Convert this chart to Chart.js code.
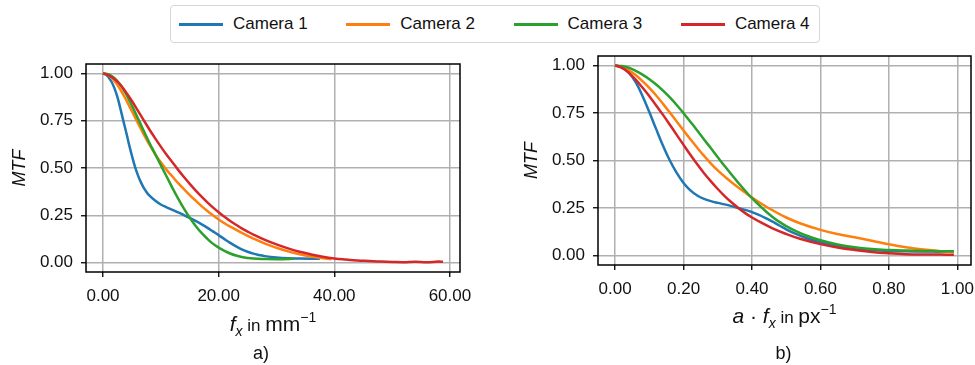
<!DOCTYPE html>
<html>
<head>
<meta charset="utf-8">
<script src="https://cdn.jsdelivr.net/npm/chart.js@4/dist/chart.umd.min.js"></script>
<style>
  html, body { margin: 0; padding: 0; background: #fff; }
  body { position: relative; width: 975px; height: 365px; overflow: hidden; font-family: "Liberation Sans", Arial, sans-serif; }
  #legend { position: absolute; left: 170px; top: 5px; width: 650px; height: 38px; box-sizing: border-box;
            border: 1px solid #d6d6d6; border-radius: 4px; background: #fff; }
  .swatch { position: absolute; top: 17px; width: 44px; height: 3px; }
  .label { position: absolute; top: 8px; font-size: 17px; line-height: 20px; color: #111; white-space: nowrap; }
  canvas { position: absolute; }
  #chartA { left: 0; top: 50px; }
  #chartB { left: 490px; top: 40px; }
</style>
</head>
<body>
<div id="legend"></div>
<canvas id="chartA" width="480" height="315"></canvas>
<canvas id="chartB" width="485" height="325"></canvas>
<script>
// ---- series names and colours ----
const cameraNames = ['Camera 1', 'Camera 2', 'Camera 3', 'Camera 4'];
const cameraColors = ['#1f77b4', '#ff7f0e', '#2ca02c', '#d62728'];

// ---- a) MTF over spatial frequency f_x (mm^-1) ----
const cam1Fx  = [0, 0.5, 1, 1.5, 2, 2.5, 3, 3.5, 4, 4.5, 5, 5.5, 6, 6.5, 7, 7.5, 8, 9, 10, 11, 12, 13, 14, 15, 16, 17, 18, 19, 20, 21, 22, 23, 24, 25, 26, 27, 28, 30, 32, 34, 36, 37.5];
const cam1MtfA = [1, 0.995, 0.978, 0.955, 0.92, 0.875, 0.815, 0.752, 0.69, 0.625, 0.565, 0.51, 0.465, 0.428, 0.398, 0.374, 0.355, 0.328, 0.307, 0.292, 0.278, 0.265, 0.251, 0.236, 0.22, 0.203, 0.185, 0.165, 0.145, 0.124, 0.104, 0.086, 0.07, 0.057, 0.047, 0.04, 0.034, 0.027, 0.023, 0.021, 0.02, 0.02];

const cam2Fx  = [0, 1, 2, 3, 4, 5, 6, 7, 8, 9, 10, 11, 12, 13, 14, 15, 16, 17, 18, 19, 20, 21, 22, 24, 26, 28, 30, 32, 34, 36, 38, 39.5];
const cam2MtfA = [1, 0.99, 0.96, 0.915, 0.86, 0.8, 0.74, 0.68, 0.625, 0.575, 0.53, 0.49, 0.455, 0.42, 0.388, 0.357, 0.328, 0.3, 0.274, 0.25, 0.228, 0.208, 0.19, 0.157, 0.127, 0.1, 0.078, 0.059, 0.044, 0.032, 0.023, 0.018];

const cam3Fx  = [0, 1, 2, 3, 4, 5, 6, 7, 8, 9, 10, 11, 12, 13, 14, 15, 16, 17, 18, 19, 20, 21, 22, 23, 24, 25, 26, 28, 30, 32, 33];
const cam3MtfA = [1, 0.995, 0.975, 0.94, 0.89, 0.83, 0.765, 0.7, 0.635, 0.575, 0.515, 0.455, 0.395, 0.338, 0.285, 0.237, 0.195, 0.158, 0.127, 0.1, 0.079, 0.062, 0.048, 0.037, 0.029, 0.024, 0.021, 0.019, 0.018, 0.019, 0.021];

const cam4Fx  = [0, 1, 2, 3, 4, 5, 6, 7, 8, 9, 10, 11, 12, 13, 14, 15, 16, 17, 18, 19, 20, 21, 22, 23, 24, 25, 26, 28, 30, 32, 34, 36, 38, 40, 42, 44, 46, 48, 50, 52, 54, 56, 58, 58.8];
const cam4MtfA = [1, 0.99, 0.97, 0.94, 0.9, 0.855, 0.805, 0.755, 0.705, 0.658, 0.613, 0.57, 0.53, 0.49, 0.452, 0.416, 0.382, 0.35, 0.32, 0.292, 0.266, 0.242, 0.22, 0.2, 0.181, 0.164, 0.148, 0.12, 0.096, 0.075, 0.057, 0.043, 0.031, 0.022, 0.016, 0.011, 0.008, 0.005, 0.003, 0.002, 0.004, 0.002, 0.005, 0.004];

// ---- b) MTF over normalised frequency a*f_x (px^-1) ----
const cam1Afx = [0, 0.02, 0.04, 0.06, 0.08, 0.1, 0.12, 0.14, 0.16, 0.18, 0.2, 0.22, 0.24, 0.26, 0.28, 0.3, 0.32, 0.34, 0.36, 0.38, 0.4, 0.42, 0.44, 0.46, 0.48, 0.5, 0.53, 0.56, 0.6, 0.65, 0.7, 0.75, 0.8, 0.85, 0.9, 0.95, 0.99];
const cam1MtfB = [1, 0.99, 0.962, 0.912, 0.84, 0.755, 0.665, 0.578, 0.5, 0.435, 0.382, 0.343, 0.316, 0.298, 0.286, 0.277, 0.269, 0.26, 0.25, 0.24, 0.228, 0.214, 0.197, 0.178, 0.158, 0.138, 0.112, 0.091, 0.07, 0.051, 0.037, 0.029, 0.024, 0.022, 0.021, 0.02, 0.02];

const cam2Afx = [0, 0.02, 0.04, 0.06, 0.08, 0.1, 0.12, 0.14, 0.16, 0.18, 0.2, 0.22, 0.24, 0.26, 0.28, 0.3, 0.32, 0.34, 0.36, 0.38, 0.4, 0.43, 0.46, 0.5, 0.54, 0.6, 0.65, 0.7, 0.75, 0.8, 0.85, 0.9, 0.95, 0.99];
const cam2MtfB = [1, 0.993, 0.975, 0.95, 0.918, 0.882, 0.842, 0.798, 0.752, 0.705, 0.658, 0.612, 0.567, 0.524, 0.484, 0.448, 0.416, 0.386, 0.358, 0.331, 0.305, 0.27, 0.238, 0.2, 0.17, 0.135, 0.113, 0.096, 0.078, 0.059, 0.043, 0.031, 0.023, 0.018];

const cam3Afx = [0, 0.02, 0.04, 0.06, 0.08, 0.1, 0.12, 0.14, 0.16, 0.18, 0.2, 0.22, 0.24, 0.26, 0.28, 0.3, 0.32, 0.34, 0.36, 0.38, 0.4, 0.42, 0.44, 0.46, 0.48, 0.5, 0.53, 0.56, 0.6, 0.65, 0.7, 0.75, 0.8, 0.85, 0.9, 0.95, 0.99];
const cam3MtfB = [1, 0.997, 0.988, 0.972, 0.952, 0.928, 0.9, 0.868, 0.832, 0.792, 0.749, 0.704, 0.658, 0.611, 0.564, 0.517, 0.471, 0.426, 0.383, 0.341, 0.302, 0.266, 0.233, 0.203, 0.177, 0.155, 0.127, 0.104, 0.08, 0.058, 0.043, 0.034, 0.029, 0.026, 0.024, 0.023, 0.022];

const cam4Afx = [0, 0.02, 0.04, 0.06, 0.08, 0.1, 0.12, 0.14, 0.16, 0.18, 0.2, 0.22, 0.24, 0.26, 0.28, 0.3, 0.32, 0.34, 0.36, 0.38, 0.4, 0.43, 0.46, 0.5, 0.54, 0.6, 0.65, 0.7, 0.75, 0.8, 0.85, 0.9, 0.95, 0.99];
const cam4MtfB = [1, 0.988, 0.962, 0.926, 0.884, 0.838, 0.79, 0.74, 0.688, 0.635, 0.582, 0.53, 0.48, 0.433, 0.39, 0.35, 0.313, 0.28, 0.25, 0.223, 0.2, 0.17, 0.143, 0.113, 0.088, 0.06, 0.042, 0.029, 0.019, 0.012, 0.007, 0.005, 0.005, 0.004];

// ---- tick values ----
const ticksFx  = [0, 20, 40, 60];
const ticksAfx = [0, 0.2, 0.4, 0.6, 0.8, 1.0];
const ticksMtf = [0, 0.25, 0.5, 0.75, 1.0];

// ---- legend (HTML, shared by both panels) ----
const legendEl = document.getElementById('legend');
cameraNames.forEach((name, i) => {
  const x0 = 8 + i * 167.3;
  const sw = document.createElement('div');
  sw.className = 'swatch';
  sw.style.left = x0 + 'px';
  sw.style.background = cameraColors[i];
  legendEl.appendChild(sw);
  const lb = document.createElement('div');
  lb.className = 'label';
  lb.style.left = (x0 + 54) + 'px';
  lb.textContent = name;
  legendEl.appendChild(lb);
});

function toPoints(xs, ys) { return xs.map((x, i) => ({ x: x, y: ys[i] })); }

function makeDatasets(pairs) {
  return pairs.map(([xs, ys], i) => ({
    label: cameraNames[i],
    data: toPoints(xs, ys),
    borderColor: cameraColors[i],
    backgroundColor: cameraColors[i],
    borderWidth: 2.5,
    pointRadius: 0,
    tension: 0.4,
    fill: false,
    order: 4 - i            // later cameras are painted on top
  }));
}

const FONT = "'Liberation Sans', Arial, sans-serif";
const TEXT = '#111';

// frame around the plotting area + mixed-style x label and panel caption
const decorPlugin = {
  id: 'decor',
  afterDraw(chart, args, opts) {
    const { ctx, chartArea: a } = chart;
    ctx.save();
    ctx.strokeStyle = '#000';
    ctx.lineWidth = 1.5;
    ctx.strokeRect(a.left, a.top, a.right - a.left, a.bottom - a.top);

    // rich x-axis title
    ctx.fillStyle = TEXT;
    ctx.textBaseline = 'alphabetic';
    let total = 0;
    opts.runs.forEach(r => { ctx.font = r.font; r.w = ctx.measureText(r.t).width; total += r.w; });
    let x = (a.left + a.right) / 2 - total / 2;
    opts.runs.forEach(r => {
      ctx.font = r.font;
      ctx.textAlign = 'left';
      ctx.fillText(r.t, x, opts.titleY + (r.dy || 0));
      x += r.w;
    });

    // caption
    ctx.font = '18px ' + FONT;
    ctx.textAlign = 'center';
    ctx.fillText(opts.caption, opts.captionX, opts.captionY);
    ctx.restore();
  }
};

function makeOptions(cfg) {
  return {
    responsive: false,
    animation: false,
    devicePixelRatio: 1,
    layout: { padding: cfg.padding },
    plugins: {
      legend: { display: false },
      tooltip: { enabled: false },
      decor: cfg.decor
    },
    scales: {
      x: {
        type: 'linear',
        min: cfg.xMin, max: cfg.xMax,
        afterBuildTicks: s => { s.ticks = cfg.xTicks.map(v => ({ value: v })); },
        afterFit: s => { s.height = cfg.xHeight; s.paddingLeft = 0; s.paddingRight = 0; },
        ticks: { font: { size: 17, family: FONT }, color: TEXT, padding: 9, maxRotation: 0,
                 callback: v => Number(v).toFixed(2) },
        grid: { color: '#b0b0b0', lineWidth: 1.5, tickColor: '#000', tickLength: 5, tickWidth: 1.3 },
        border: { display: false }
      },
      y: {
        type: 'linear',
        min: -0.05, max: 1.05,
        afterBuildTicks: s => { s.ticks = ticksMtf.map(v => ({ value: v })); },
        afterFit: s => { s.width = cfg.yWidth; s.paddingTop = 0; s.paddingBottom = 0; },
        ticks: { font: { size: 17, family: FONT }, color: TEXT, padding: 8,
                 callback: v => Number(v).toFixed(2) },
        grid: { color: '#b0b0b0', lineWidth: 1.5, tickColor: '#000', tickLength: 5, tickWidth: 1.3 },
        border: { display: false },
        title: { display: true, text: 'MTF', color: TEXT,
                 font: { size: 18, family: FONT, style: 'italic' },
                 padding: { top: cfg.yTitlePad, bottom: 0 } }
      }
    }
  };
}

new Chart(document.getElementById('chartA'), {
  type: 'line',
  data: { datasets: makeDatasets([[cam1Fx, cam1MtfA], [cam2Fx, cam2MtfA], [cam3Fx, cam3MtfA], [cam4Fx, cam4MtfA]]) },
  options: makeOptions({
    padding: { top: 14, right: 20, left: 0, bottom: 0 },
    xMin: -2.94, xMax: 61.74, xTicks: ticksFx, xHeight: 93, yWidth: 86, yTitlePad: 9,
    decor: {
      runs: [
        { t: 'f', font: 'italic 21px ' + FONT },
        { t: 'x', font: 'italic 14px ' + FONT, dy: 5 },
        { t: ' in ', font: '17px ' + FONT },
        { t: 'mm', font: '21px ' + FONT },
        { t: '\u22121', font: '14px ' + FONT, dy: -9 }
      ],
      titleY: 281, caption: 'a)', captionX: 261, captionY: 309
    }
  }),
  plugins: [decorPlugin]
});

new Chart(document.getElementById('chartB'), {
  type: 'line',
  data: { datasets: makeDatasets([[cam1Afx, cam1MtfB], [cam2Afx, cam2MtfB], [cam3Afx, cam3MtfB], [cam4Afx, cam4MtfB]]) },
  options: makeOptions({
    padding: { top: 16, right: 4, left: 0, bottom: 0 },
    xMin: -0.05, xMax: 1.04, xTicks: ticksAfx, xHeight: 100, yWidth: 108, yTitlePad: 31,
    decor: {
      runs: [
        { t: 'a', font: 'italic 21px ' + FONT },
        { t: ' \u00b7 ', font: '21px ' + FONT },
        { t: 'f', font: 'italic 21px ' + FONT },
        { t: 'x', font: 'italic 14px ' + FONT, dy: 5 },
        { t: ' in ', font: '17px ' + FONT },
        { t: 'px', font: '21px ' + FONT },
        { t: '\u22121', font: '14px ' + FONT, dy: -9 }
      ],
      titleY: 283, caption: 'b)', captionX: 293.5, captionY: 319
    }
  }),
  plugins: [decorPlugin]
});
</script>
</body>
</html>
